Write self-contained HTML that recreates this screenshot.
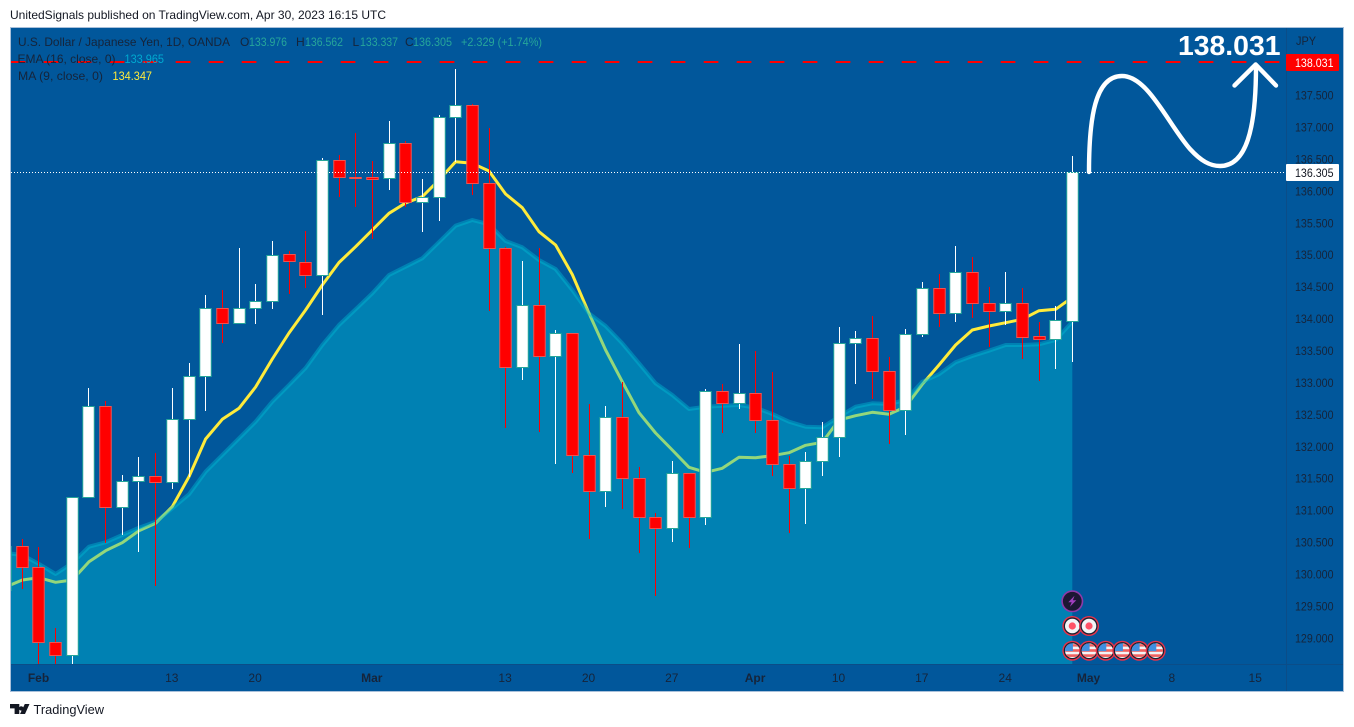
<!DOCTYPE html>
<html lang="en">
<head>
<meta charset="utf-8">
<title>USD/JPY chart</title>
<style>
html,body{margin:0;padding:0;background:#fff;width:1354px;height:727px;overflow:hidden}
svg{display:block;font-family:"Liberation Sans",sans-serif}
</style>
</head>
<body>
<svg id="chart" xmlns="http://www.w3.org/2000/svg" width="1354" height="727" viewBox="0 0 1354 727">
  <defs>
    <clipPath id="paneClip"><rect x="11" y="28" width="1275" height="636"/></clipPath>
    <clipPath id="iconClip"><circle cx="0" cy="0" r="7.3"/></clipPath>
  </defs>
  <rect x="0" y="0" width="1354" height="727" fill="#ffffff"/>
  <text x="10" y="19" font-size="12" fill="#131722" textLength="376" lengthAdjust="spacingAndGlyphs">UnitedSignals published on TradingView.com, Apr 30, 2023 16:15 UTC</text>
  <rect x="10.5" y="27.5" width="1333" height="664" fill="#01579b" stroke="#a9c0da" stroke-width="1"/>

  <g id="pane" clip-path="url(#paneClip)">
    <path id="maLine" fill="none" stroke="#ffeb3b" stroke-width="3" stroke-linejoin="round"/>
    <path id="emaArea" fill="#00bcd4" fill-opacity="0.42" stroke="none"/>
    <path id="emaLine" fill="none" stroke="#00bcd4" stroke-opacity="0.42" stroke-width="4" stroke-linejoin="round"/>
    <g id="candles"></g>
    <line id="lastPriceLine" x1="11" x2="1286" stroke="#ffffff" stroke-width="1" stroke-dasharray="1 2"/>
    <line id="targetLine" x1="10.7" x2="1280" stroke="#ff0000" stroke-width="2" stroke-dasharray="14.7 18.3"/>
  </g>

  <line x1="1286.5" x2="1286.5" y1="28" y2="691" stroke="#0b4d88" stroke-width="1"/>
  <line x1="11" x2="1343" y1="664.5" y2="664.5" stroke="#0b4d88" stroke-width="1"/>

  <g font-size="12">
    <text x="18" y="46" fill="#16243a" textLength="212" lengthAdjust="spacingAndGlyphs">U.S. Dollar / Japanese Yen, 1D, OANDA</text>
    <text x="240" y="46" fill="#16243a">O</text>
    <text x="249" y="46" fill="#26a69a" textLength="38" lengthAdjust="spacingAndGlyphs">133.976</text>
    <text x="296" y="46" fill="#16243a">H</text>
    <text x="305" y="46" fill="#26a69a" textLength="38" lengthAdjust="spacingAndGlyphs">136.562</text>
    <text x="352.5" y="46" fill="#16243a">L</text>
    <text x="360" y="46" fill="#26a69a" textLength="38" lengthAdjust="spacingAndGlyphs">133.337</text>
    <text x="405" y="46" fill="#16243a">C</text>
    <text x="413" y="46" fill="#26a69a" textLength="39" lengthAdjust="spacingAndGlyphs">136.305</text>
    <text x="461" y="46" fill="#26a69a" textLength="81" lengthAdjust="spacingAndGlyphs">+2.329 (+1.74%)</text>
    <text x="17.5" y="63" fill="#16243a" textLength="98" lengthAdjust="spacingAndGlyphs">EMA (16, close, 0)</text>
    <text x="124.5" y="63" fill="#00a9d0" textLength="39.5" lengthAdjust="spacingAndGlyphs">133.965</text>
    <text x="18" y="80" fill="#16243a" textLength="85" lengthAdjust="spacingAndGlyphs">MA (9, close, 0)</text>
    <text x="112.5" y="80" fill="#ffeb3b" textLength="39.5" lengthAdjust="spacingAndGlyphs">134.347</text>
  </g>

  <g fill="none" stroke="#ffffff" stroke-width="4.4" stroke-linecap="round" stroke-linejoin="round">
    <path d="M1089 172 C1089 118 1095 76 1122 76 C1148 76 1168 124 1190 149 C1201 161 1210 166 1220 166 C1246 166 1256 130 1256 66"/>
    <path d="M1234.5 85.5 L1255.7 64.5 L1276 85.5"/>
  </g>
  <text x="1178" y="55" font-size="28" font-weight="700" fill="#ffffff" textLength="102.5" lengthAdjust="spacingAndGlyphs">138.031</text>

  <g id="priceAxis" font-size="12" fill="#16243a"></g>
  <text x="1296" y="45" font-size="12" fill="#16243a" textLength="20" lengthAdjust="spacingAndGlyphs">JPY</text>
  <rect id="targetTag" x="1286" y="54" width="53" height="17" rx="1" fill="#ff0000"/>
  <text id="targetTagText" x="1295" y="67" font-size="12" fill="#ffffff" textLength="38.5" lengthAdjust="spacingAndGlyphs">138.031</text>
  <rect id="lastTag" x="1286" y="164" width="53" height="17" rx="1" fill="#ffffff"/>
  <text id="lastTagText" x="1295" y="177" font-size="12" fill="#131722" textLength="38.5" lengthAdjust="spacingAndGlyphs">136.305</text>

  <g id="timeAxis" font-size="12" fill="#16243a"></g>
  <g id="events"></g>

  <g>
    <path fill="#131722" d="M10 704 H19.3 V714 H14.6 V708.4 H10 Z M21.2 706.2 A2.2 2.2 0 1 1 21.19 706.2 Z M24.8 704 H29.5 L25 714 H20 Z"/>
    <text x="33.5" y="714" font-size="13" fill="#131722" textLength="70.5" lengthAdjust="spacingAndGlyphs">TradingView</text>
  </g>
</svg>
<script>
var opens = [129.763,130.452,130.118,128.944,128.74,131.215,132.64,131.068,131.466,131.544,131.447,132.436,133.115,134.18,133.945,134.18,134.289,135.025,134.90,134.696,136.493,136.237,136.236,136.211,136.759,135.835,135.913,137.166,137.354,136.133,135.115,133.26,134.222,133.433,133.783,131.87,131.318,132.468,131.513,130.902,130.729,131.591,130.911,132.875,132.687,132.844,132.418,131.732,131.356,131.779,132.155,133.627,133.705,133.188,132.577,133.768,134.488,134.097,134.739,134.253,134.128,134.253,133.745,133.689,133.976];
var highs = [130.5,130.557,130.441,129.172,131.215,132.927,132.723,131.564,131.846,131.904,132.927,133.318,134.383,134.461,135.119,134.555,135.229,135.072,135.386,136.534,136.576,136.916,136.482,137.108,136.795,136.2,137.202,137.923,137.375,136.994,135.13,134.916,135.115,133.835,133.79,132.676,132.645,133.025,131.694,130.964,131.783,131.6,132.911,132.989,133.616,133.506,133.177,131.866,131.924,132.394,133.882,133.82,134.054,133.408,133.851,134.587,134.712,135.151,134.974,134.504,134.743,134.498,133.96,134.211,136.562];
var lows = [129.606,129.774,128.54,128.51,128.54,131.215,130.504,130.625,130.363,129.83,131.35,131.537,132.571,133.631,133.945,133.93,134.164,134.394,134.498,134.07,135.918,135.757,135.26,136.028,135.766,135.375,135.542,136.471,135.95,134.137,132.305,133.052,132.242,131.736,131.591,130.562,131.068,131.031,130.347,129.674,130.519,130.426,130.786,132.227,132.598,132.227,131.553,130.66,130.797,131.553,131.851,132.989,132.754,132.045,132.195,133.73,133.877,133.965,134.028,133.569,133.913,133.381,133.036,133.224,133.337];
var closes = [130.452,130.118,128.944,128.74,131.215,132.64,131.068,131.466,131.544,131.447,132.436,133.115,134.18,133.945,134.18,134.289,135.01,134.916,134.696,136.493,136.227,136.217,136.205,136.759,135.835,135.913,137.166,137.354,136.133,135.115,133.26,134.222,133.433,133.783,131.87,131.318,132.468,131.513,130.902,130.729,131.591,130.911,132.875,132.687,132.844,132.418,131.732,131.356,131.779,132.155,133.627,133.705,133.188,132.577,133.768,134.488,134.097,134.739,134.253,134.128,134.253,133.73,133.689,133.987,136.305];
var maValues = [129.81,129.92,129.956,129.884,129.92,130.206,130.378,130.504,130.692,130.808,131.068,131.537,132.128,132.436,132.609,132.942,133.381,133.788,134.148,134.54,134.892,135.14,135.401,135.663,135.824,135.923,136.184,136.471,136.446,136.325,135.965,135.75,135.375,135.166,134.704,134.097,133.522,133.025,132.54,132.222,131.956,131.685,131.606,131.669,131.841,131.835,131.866,131.913,132.029,132.076,132.425,132.493,132.546,132.515,132.634,132.985,133.287,133.6,133.835,133.898,133.949,134.003,134.137,134.159,134.347];
var emaValues = [130.342,130.311,130.17,130.013,130.186,130.441,130.51,130.625,130.739,130.833,131.043,131.262,131.616,131.877,132.139,132.399,132.712,132.974,133.24,133.6,133.913,134.159,134.41,134.696,134.826,134.958,135.213,135.469,135.558,135.49,135.229,135.13,134.931,134.79,134.461,134.097,133.898,133.627,133.314,133.0,132.817,132.598,132.634,132.65,132.66,132.618,132.52,132.399,132.32,132.311,132.477,132.634,132.687,132.676,132.739,133.025,133.141,133.33,133.428,133.511,133.6,133.6,133.611,133.678,133.965];
var priceTickLabels = ["129.000","129.500","130.000","130.500","131.000","131.500","132.000","132.500","133.000","133.500","134.000","134.500","135.000","135.500","136.000","136.500","137.000","137.500"];
var timeTickLabels = ["Feb","13","20","Mar","13","20","27","Apr","10","17","24","May","8","15"];
var timeTickBars = [2,10,15,22,30,35,40,45,50,55,60,65,70,75];
var monthTickLabels = ["Feb","Mar","Apr","May"];
var lastPrice = 136.305;
var targetPrice = 138.031;

var NS = "http://www.w3.org/2000/svg";
function yScale(p) { return 172.3 - (p - 136.305) * 63.85; }
function xScale(k) { return 5.63 + 16.667 * k; }
function barLeft(k) { return Math.floor(-0.337 + 16.667 * k); }
function el(tag, attrs, parent) {
  var e = document.createElementNS(NS, tag);
  for (var a in attrs) { e.setAttribute(a, attrs[a]); }
  parent.appendChild(e);
  return e;
}

var maPts = maValues.map(function (v, k) { return xScale(k).toFixed(1) + " " + yScale(v).toFixed(1); });
document.getElementById("maLine").setAttribute("d", "M" + maPts.join(" L"));
var emaPts = emaValues.map(function (v, k) { return xScale(k).toFixed(1) + " " + yScale(v).toFixed(1); });
document.getElementById("emaLine").setAttribute("d", "M" + emaPts.join(" L"));
var lastEmaX = xScale(emaValues.length - 1).toFixed(1);
document.getElementById("emaArea").setAttribute("d", "M" + emaPts.join(" L") + " L" + lastEmaX + " 664 L" + xScale(0).toFixed(1) + " 664 Z");

var candlesG = document.getElementById("candles");
closes.forEach(function (c, k) {
  var o = opens[k];
  var up = c >= o;
  var left = barLeft(k);
  var g = el("g", {}, candlesG);
  
  
  var wick = el("rect", {
    x: left + 6,
    y: Math.round(yScale(highs[k])),
    width: 1,
    height: Math.max(1, Math.round(yScale(lows[k])) - Math.round(yScale(highs[k]))),
    fill: up ? "#ffffff" : "#ff0000"
  }, g);
  
  
  var top = Math.round(yScale(Math.max(o, c)));
  var bot = Math.round(yScale(Math.min(o, c)));
  var body = el("rect", {
    x: left + 0.75,
    y: top + 0.5,
    width: 11.5,
    height: Math.max(1, bot - top),
    fill: up ? "#ffffff" : "#ff0000",
    stroke: up ? "#26a69a" : "#ef5350",
    "stroke-width": 1
  }, g);
  
  
});

var lastLine = document.getElementById("lastPriceLine");
lastLine.setAttribute("y1", Math.round(yScale(lastPrice)) + 0.5);
lastLine.setAttribute("y2", Math.round(yScale(lastPrice)) + 0.5);
var tgtLine = document.getElementById("targetLine");
tgtLine.setAttribute("y1", Math.round(yScale(targetPrice)));
tgtLine.setAttribute("y2", Math.round(yScale(targetPrice)));

var priceAxisG = document.getElementById("priceAxis");
priceTickLabels.forEach(function (lab) {
  var t = el("text", {
    x: 1295,
    y: (yScale(parseFloat(lab)) + 3.6).toFixed(1),
    textLength: 38.5,
    lengthAdjust: "spacingAndGlyphs"
  }, priceAxisG);
  
  
  t.textContent = lab;
});

var timeAxisG = document.getElementById("timeAxis");
timeTickLabels.forEach(function (lab, n) {
  var isMonth = monthTickLabels.indexOf(lab) >= 0;
  var t = el("text", {
    x: (xScale(timeTickBars[n]) - 0.5).toFixed(1),
    y: 682,
    "text-anchor": "middle",
    "font-weight": isMonth ? "700" : "400"
  }, timeAxisG);
  
  
  t.textContent = lab;
});

var eventsG = document.getElementById("events");
var lightningBars = [64];
var dotBars = [64, 65];
var flagBars = [64, 65, 66, 67, 68, 69];

lightningBars.forEach(function (k) {
  var g = el("g", { transform: "translate(" + xScale(k).toFixed(1) + " 601.3)" }, eventsG);
  
  
  el("circle", { r: 10.2, fill: "#1c1733", stroke: "#8e3aa8", "stroke-width": 1.6 }, g);
  el("path", { d: "M2.2 -5.5 L-4 1 L-0.6 1 L-2.4 5.5 L4 -1 L0.6 -1 Z", fill: "#a13fc0" }, g);
});

dotBars.forEach(function (k) {
  var g = el("g", { transform: "translate(" + xScale(k).toFixed(1) + " 626)" }, eventsG);
  
  
  el("circle", { r: 10, fill: "#e8334a" }, g);
  el("circle", { r: 8.6, fill: "#1c2030" }, g);
  el("circle", { r: 7.3, fill: "#f3f4f6" }, g);
  el("circle", { r: 3.6, fill: "#ff5266" }, g);
});

flagBars.forEach(function (k) {
  var g = el("g", { transform: "translate(" + xScale(k).toFixed(1) + " 650.7)" }, eventsG);
  
  
  el("circle", { r: 10, fill: "#e8334a" }, g);
  el("circle", { r: 8.6, fill: "#1c2030" }, g);
  var c = el("g", { "clip-path": "url(#iconClip)" }, g);
  el("rect", { x: -8, y: -8, width: 16, height: 16, fill: "#f3f4f6" }, c);
  el("rect", { x: -8, y: -1.5, width: 16, height: 2.6, fill: "#f0605f" }, c);
  el("rect", { x: -8, y: 3.6, width: 16, height: 2.6, fill: "#f0605f" }, c);
  el("rect", { x: -8, y: -6.5, width: 16, height: 2.4, fill: "#f0605f" }, c);
  el("rect", { x: -8, y: -8, width: 8.6, height: 8.4, fill: "#3f8fe0" }, c);
});
</script>
</body>
</html>
